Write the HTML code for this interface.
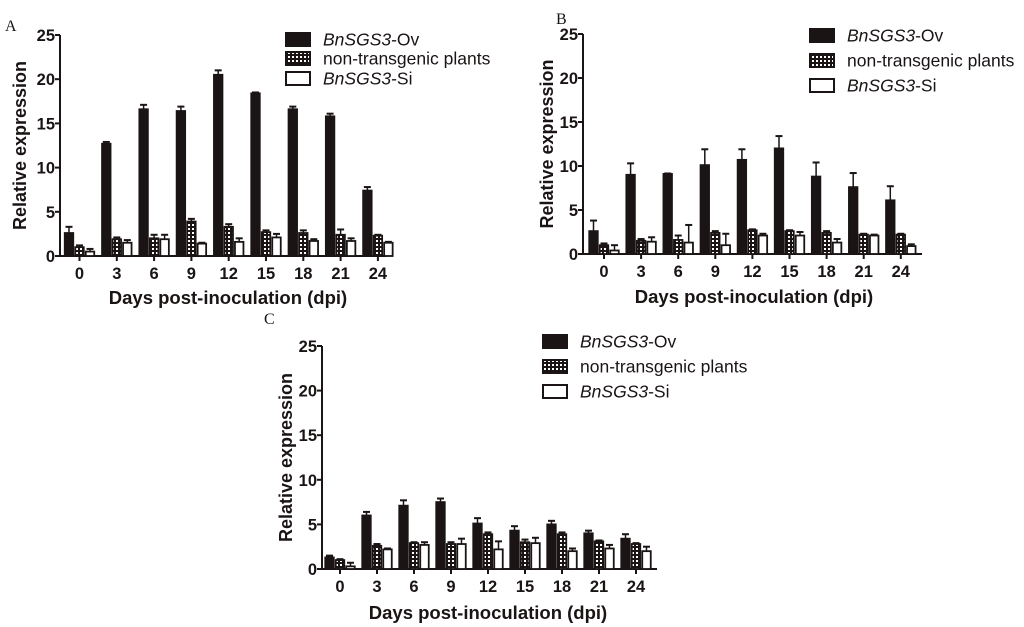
<!DOCTYPE html>
<html><head><meta charset="utf-8"><style>
body{margin:0;background:#fff;width:1024px;height:627px;overflow:hidden}
svg{display:block;font-family:"Liberation Sans",Arial,sans-serif}
</style></head><body>
<svg id="fig" width="1024" height="627">
<defs><pattern id="chk" width="4" height="4" patternUnits="userSpaceOnUse"><rect width="4" height="4" fill="#1a1414"/><rect x="0" y="0" width="2" height="2" fill="#fff"/></pattern></defs>
</svg>
<script>
const categories=["0","3","6","9","12","15","18","21","24"];
const yTicks=[0,5,10,15,20,25];
const aOv=[2.6,12.7,16.6,16.4,20.5,18.4,16.6,15.8,7.4];
const aOvErr=[0.7,0.2,0.5,0.5,0.5,0.1,0.3,0.3,0.4];
const aNon=[1.0,1.9,2.0,3.9,3.3,2.7,2.6,2.4,2.3];
const aNonErr=[0.2,0.2,0.4,0.3,0.3,0.2,0.3,0.6,0.1];
const aSi=[0.5,1.5,1.9,1.4,1.6,2.1,1.7,1.7,1.5];
const aSiErr=[0.3,0.3,0.5,0.1,0.4,0.4,0.2,0.3,0.1];
const bOv=[2.6,9.0,9.1,10.1,10.7,12.0,8.8,7.6,6.1];
const bOvErr=[1.2,1.3,0.05,1.8,1.2,1.4,1.6,1.6,1.6];
const bNon=[1.0,1.5,1.6,2.4,2.7,2.6,2.4,2.2,2.2];
const bNonErr=[0.2,0.2,0.5,0.2,0.1,0.1,0.2,0.1,0.1];
const bSi=[0.4,1.4,1.3,1.0,2.1,2.1,1.3,2.1,0.9];
const bSiErr=[0.6,0.5,2.0,1.3,0.2,0.4,0.4,0.1,0.2];
const cOv=[1.3,6.0,7.1,7.5,5.1,4.3,5.0,4.0,3.4];
const cOvErr=[0.2,0.4,0.6,0.4,0.6,0.5,0.4,0.3,0.5];
const cNon=[1.0,2.6,2.9,2.8,3.9,3.0,3.9,3.1,2.8];
const cNonErr=[0.1,0.2,0.1,0.2,0.2,0.3,0.2,0.1,0.1];
const cSi=[0.3,2.2,2.7,2.8,2.2,2.9,2.0,2.3,2.0];
const cSiErr=[0.4,0.1,0.3,0.6,0.9,0.6,0.3,0.4,0.5];

const NS="http://www.w3.org/2000/svg";
const svg=document.getElementById('fig');
function mk(tag,attrs,parent,text){const e=document.createElementNS(NS,tag);for(const k in attrs)e.setAttribute(k,attrs[k]);if(text!==undefined)e.textContent=text;(parent||svg).appendChild(e);return e;}
const INK="#1a1414";
function panel(p){
  const g=mk('g',{});
  
  
  const yS=v=>p.y0-(v/25)*(p.y0-p.y25);
  const xS=i=>p.x0+i*p.dx;
  const lab=mk('text',{x:p.lx,y:p.ly,'font-family':'Liberation Serif,serif','font-size':16,fill:INK},g,p.id);
  
  
  const ya=mk('line',{x1:p.ax,y1:p.y25,x2:p.ax,y2:p.y0,stroke:INK,'stroke-width':2},g);
  
  
  yTicks.forEach(t=>{const y=yS(t);
    mk('line',{x1:p.ax-5,y1:y,x2:p.ax,y2:y,stroke:INK,'stroke-width':2},g);
    const tl=mk('text',{x:p.ax-5,y:y+6,'text-anchor':'end','font-size':16.5,'font-weight':'bold',fill:INK},g,t);
    
    
  });
  const xa=mk('line',{x1:p.ax,y1:p.y0,x2:p.xend,y2:p.y0,stroke:INK,'stroke-width':2},g);
  
  
  categories.forEach((c,i)=>{const x=xS(i);
    mk('line',{x1:x,y1:p.y0,x2:x,y2:p.y0+5,stroke:INK,'stroke-width':2},g);
    const tl=mk('text',{x:x,y:p.y0+23,'text-anchor':'middle','font-size':16.5,'font-weight':'bold',fill:INK},g,c);
    
    
  });
  const yt=mk('text',{x:0,y:0,transform:`translate(${p.ytx},${(p.y0+p.y25)/2}) rotate(-90)`,'text-anchor':'middle','font-size':18,'font-weight':'bold',fill:INK},g,'Relative expression');
  
  
  const xt=mk('text',{x:p.xtx,y:p.xty,'text-anchor':'middle','font-size':18.5,'font-weight':'bold',fill:INK},g,'Days post-inoculation (dpi)');
  
  
  const series=[[p.ov,p.ovE,INK,'ov'],[p.non,p.nonE,'url(#chk)','non'],[p.si,p.siE,'#fff','si']];
  const bw=8.5, gap=10.5;
  series.forEach((s,k)=>{
    s[0].forEach((v,i)=>{
      const cx=xS(i)+(k-1)*gap;
      const yt=yS(v), ye=yS(v+s[1][i]);
      const l=mk('line',{x1:cx,y1:yt,x2:cx,y2:ye,stroke:INK,'stroke-width':1.5},g);
      
      
      mk('line',{x1:cx-3.5,y1:ye,x2:cx+3.5,y2:ye,stroke:INK,'stroke-width':2},g);
      const r=mk('rect',{x:cx-bw/2,y:yt,width:bw,height:p.y0-yt,fill:s[2],stroke:INK,'stroke-width':1.8},g);
      
      
    });
  });
  const names=[['BnSGS3','-Ov',INK],['non-transgenic plants','','url(#chk)'],['BnSGS3','-Si','#fff']];
  names.forEach((n,k)=>{
    const y=p.legY[k];
    const le=mk('g',{},g);
    
    
    mk('rect',{x:p.legX,y:y-6,width:24,height:13,fill:n[2],stroke:INK,'stroke-width':2},le);
    const t=mk('text',{x:p.legX+37,y:y+6.5,'font-size':17.5,fill:INK},le);
    if(n[1]){mk('tspan',{'font-style':'italic'},t,n[0]);mk('tspan',{},t,n[1]);} else t.textContent=n[0];
  });
}
panel({id:'A',lx:5,ly:31,ax:60,y0:256,y25:35,x0:79.5,dx:37.3,xend:386,ytx:26,xtx:228,xty:304,ov:aOv,ovE:aOvErr,non:aNon,nonE:aNonErr,si:aSi,siE:aSiErr,legX:286,legY:[39,58,78]});
panel({id:'B',lx:556,ly:24,ax:583,y0:254,y25:34,x0:604,dx:37.1,xend:922,ytx:553,xtx:754,xty:303,ov:bOv,ovE:bOvErr,non:bNon,nonE:bNonErr,si:bSi,siE:bSiErr,legX:810,legY:[35,60,85]});
panel({id:'C',lx:264,ly:324,ax:322,y0:569,y25:346,x0:340,dx:37,xend:657,ytx:292,xtx:488,xty:619,ov:cOv,ovE:cOvErr,non:cNon,nonE:cNonErr,si:cSi,siE:cSiErr,legX:543,legY:[341,366,391]});
</script>
</body></html>
